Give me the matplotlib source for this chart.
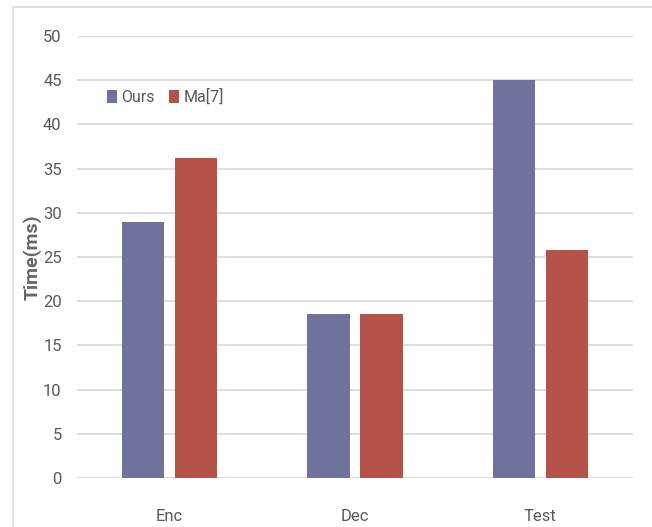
import numpy as np
import matplotlib
matplotlib.use("Agg")
import matplotlib.pyplot as plt
from matplotlib.lines import Line2D

categories = ["Enc", "Dec", "Test"]
ours = [29, 18.5, 45]
ma7 = [36.2, 18.5, 25.8]
series_names = ["Ours", "Ma[7]"]

BLUE = "#6e729c"
RED = "#b5524a"
GRAY = "#595959"

plt.rcParams['font.family'] = ['Roboto', 'DejaVu Sans']

fig = plt.figure(figsize=(6.52, 5.27), dpi=100)
ax = fig.add_axes([77/652, 1 - 478/527, 556/652, 442/527])

x = np.arange(len(categories))
w = 0.227
ax.bar(x - 0.143, ours, w, color=BLUE, label=series_names[0], zorder=3)
ax.bar(x + 0.143, ma7, w, color=RED, label=series_names[1], zorder=3)

ax.set_ylim(0, 50)
ax.set_xlim(-0.5, 2.5)
ax.set_yticks(np.arange(0, 51, 5))
ax.set_xticks(x)
ax.set_xticklabels(categories)
ax.yaxis.grid(True, color="#dcdcdc", linewidth=1.3, zorder=0)
ax.set_axisbelow(True)
for s in ax.spines.values():
    s.set_visible(False)
ax.tick_params(length=0, labelsize=12, colors=GRAY)
ax.tick_params(axis="y", pad=11)
ax.tick_params(axis="x", pad=22)
ax.set_ylabel("Time(ms)", fontsize=14, color="#666666", fontweight="bold")
ax.yaxis.set_label_coords(-0.063, 0.5)

ax.legend(loc="upper left", bbox_to_anchor=(0.028, 0.913), ncol=2, frameon=False,
          handlelength=0.6, handleheight=0.9, handletextpad=0.3, columnspacing=0.9,
          fontsize=11.5, labelcolor=GRAY)

# outer frame of the original figure
fig.add_artist(Line2D([13/652, 1], [1 - 7/527, 1 - 7/527], color="#ead9d6", linewidth=1.5))
fig.add_artist(Line2D([13/652, 13/652], [0, 1 - 7/527], color="#e3e3e3", linewidth=1.5))

fig.savefig("out.png", dpi=100)
